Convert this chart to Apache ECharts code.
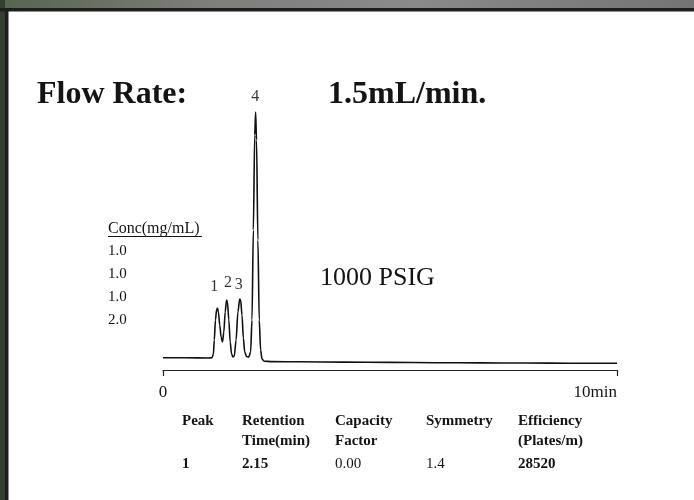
<!DOCTYPE html>
<html><head><meta charset="utf-8">
<script src="https://cdn.jsdelivr.net/npm/echarts@6/dist/echarts.min.js"></script>
<style>html,body{margin:0;padding:0;background:#fff}#c{width:694px;height:500px}</style>
</head><body><div id="c"></div>
<script>
// ---- data ----
const titleLeft = 'Flow Rate:';
const titleRight = '1.5mL/min.';
const pressureLabel = '1000 PSIG';
const concHeader = 'Conc(mg/mL)';
const concValues = ['1.0', '1.0', '1.0', '2.0'];
const peakNames = ['1', '2', '3', '4'];
const peakLabelTime = [1.13, 1.43, 1.67, 2.03];
const peakLabelLevel = [83, 87, 85, 273];
const axisLabels = ['0', '10min'];
const signalTime = [0, 0.5, 1.0, 1.08, 1.11, 1.13, 1.155, 1.18, 1.20, 1.22, 1.25, 1.28, 1.31, 1.34, 1.37, 1.40, 1.42, 1.45, 1.48, 1.51, 1.54, 1.57, 1.61, 1.65, 1.69, 1.71, 1.74, 1.77, 1.80, 1.84, 1.89, 1.93, 1.96, 1.99, 2.02, 2.04, 2.06, 2.09, 2.12, 2.15, 2.18, 2.23, 2.4, 3, 4, 5, 6, 7, 8, 9, 10];
const signalValue = [12.3, 12.2, 12.0, 12.3, 16, 30, 50, 60, 62, 58, 45, 33, 28, 38, 58, 70, 68, 50, 28, 16, 13, 14, 30, 58, 71, 70, 55, 32, 18, 13.5, 13, 18, 50, 140, 235, 258, 230, 130, 50, 20, 11, 8.8, 8.4, 8.2, 7.9, 7.6, 7.3, 7.1, 7.0, 6.8, 6.7];
const tableHeaderLine1 = ['Peak', 'Retention', 'Capacity', 'Symmetry', 'Efficiency'];
const tableHeaderLine2 = ['', 'Time(min)', 'Factor', '', '(Plates/m)'];
const tableRow = ['1', '2.15', '0.00', '1.4', '28520'];

// ---- build ----
const SERIF = "'Liberation Serif','Times New Roman',serif";
const chart = echarts.init(document.getElementById('c'), null, {renderer: 'canvas'});
const signal = signalTime.map((t, i) => [t, signalValue[i]]);
const peakPts = peakNames.map((n, i) => [peakLabelTime[i], peakLabelLevel[i], n]);

const colX = [182, 242, 335, 426, 518];
const rowY = [421, 441, 464];
const rowWeight = ['bold', 'bold', 'normal', 'normal', 'bold'];
const graphics = [];
function txt(text, x, y, size, weight, extra) {
  graphics.push(Object.assign({
    type: 'text', x: x, y: y, z: 50,
    style: {text: text, fontFamily: SERIF, fontSize: size, fontWeight: weight || 'normal', fill: '#141414', verticalAlign: 'middle', align: 'left'}
  }, extra || {}));
}
txt(titleLeft, 37, 95, 32, 'bold');
txt(titleRight, 328, 95, 32, 'bold');
txt(pressureLabel, 320, 278, 26, 'normal');
txt(concHeader, 108, 229, 16, 'normal');
graphics.push({type: 'line', z: 50, shape: {x1: 108, y1: 236.5, x2: 202, y2: 236.5}, style: {stroke: '#141414', lineWidth: 1}});
concValues.forEach((v, i) => txt(v, 108, 251 + i * 23, 15, 'normal'));
tableHeaderLine1.forEach((v, i) => txt(v, colX[i], rowY[0], 15, 'bold'));
tableHeaderLine2.forEach((v, i) => { if (v) txt(v, colX[i], rowY[1], 15, 'bold'); });
tableRow.forEach((v, i) => txt(v, colX[i], rowY[2], 15, rowWeight[i]));
// frame of the slide screenshot
graphics.push({type: 'rect', z: 100, shape: {x: 0, y: 0, width: 694, height: 8},
  style: {fill: new echarts.graphic.LinearGradient(0, 0, 1, 0, [
    {offset: 0, color: '#56654f'}, {offset: 0.3, color: '#7d7f7a'}, {offset: 0.6, color: '#8a8a8a'}, {offset: 1, color: '#747474'}])}});
graphics.push({type: 'rect', z: 101, shape: {x: 0, y: 8, width: 694, height: 3.5}, style: {fill: '#1e1e1e'}});
graphics.push({type: 'rect', z: 100, shape: {x: 0, y: 0, width: 5, height: 500}, style: {fill: '#33402f'}});
graphics.push({type: 'rect', z: 101, shape: {x: 5, y: 8, width: 3.5, height: 492}, style: {fill: '#1e1e1e'}});

chart.setOption({
  backgroundColor: '#ffffff',
  animation: false,
  grid: {left: 163, right: 77, top: 90, bottom: 130, containLabel: false},
  xAxis: {
    type: 'value', min: 0, max: 10, interval: 10,
    axisLine: {show: true, lineStyle: {color: '#222', width: 1.2}},
    axisTick: {show: true, inside: false, length: 6, lineStyle: {color: '#222', width: 1.2}},
    splitLine: {show: false},
    axisLabel: {
      margin: 14, fontFamily: SERIF, fontSize: 17, color: '#141414',
      alignMinLabel: 'center', alignMaxLabel: 'right',
      formatter: function (v) { return v === 0 ? axisLabels[0] : axisLabels[1]; }
    }
  },
  yAxis: {type: 'value', min: 0, max: 280, show: false, splitLine: {show: false}},
  series: [
    {type: 'line', data: signal, showSymbol: false, smooth: 0.3, smoothMonotone: 'x',
      lineStyle: {color: '#111', width: 1.6}, z: 3},
    {type: 'scatter', data: peakPts, symbolSize: 0, z: 4,
      label: {show: true, position: 'inside', fontFamily: SERIF, fontSize: 16, color: '#000',
        formatter: function (p) { return p.data[2]; }}}
  ],
  graphic: graphics
});
</script></body></html>
